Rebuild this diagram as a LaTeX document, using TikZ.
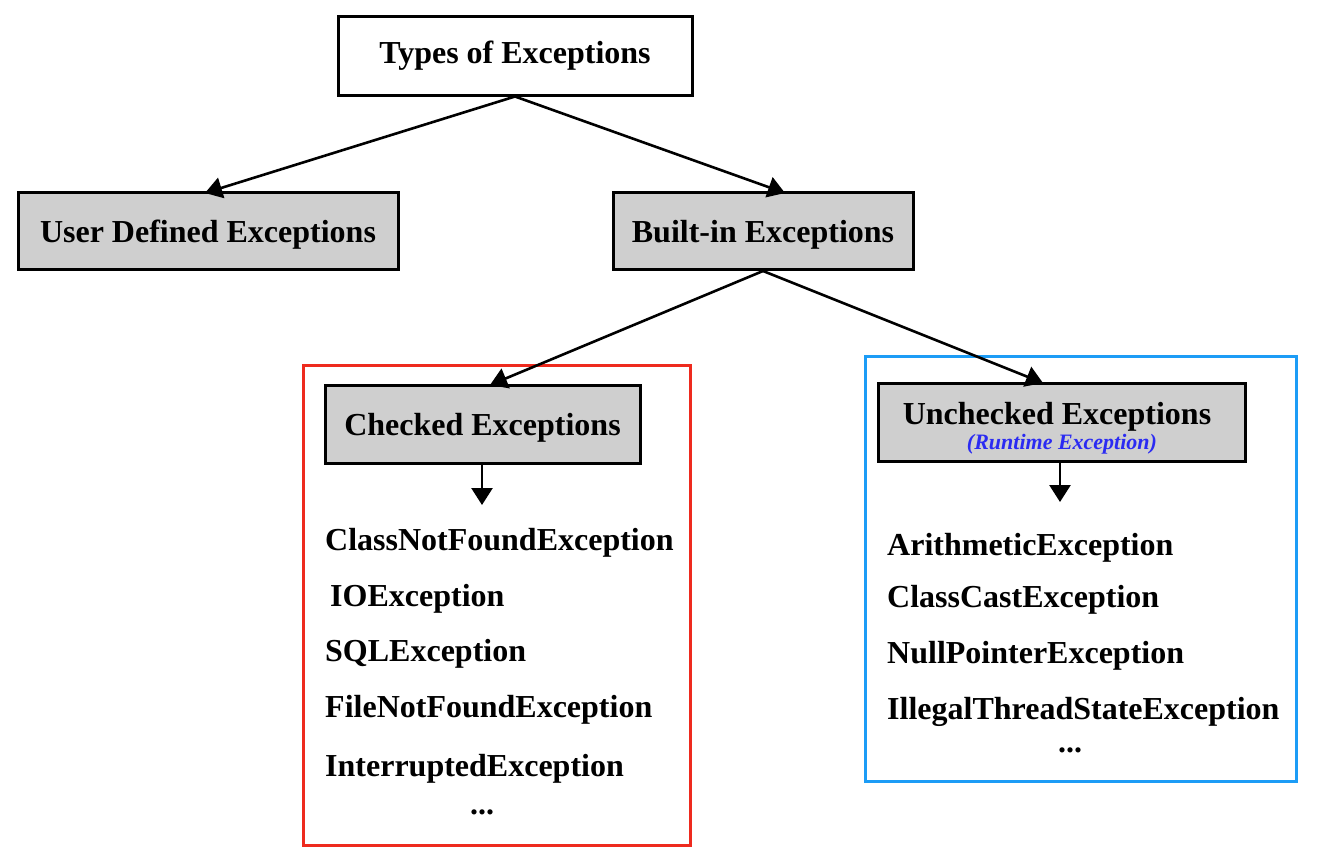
\documentclass[tikz,border=0pt]{standalone}
\usepackage{fontspec}
\setmainfont{Liberation Serif}
\usetikzlibrary{arrows.meta}
\definecolor{boxgray}{HTML}{CFCFCF}
\definecolor{redframe}{HTML}{EE2A1E}
\definecolor{blueframe}{HTML}{1C9CF6}
\definecolor{rtblue}{HTML}{2B2BF2}
\tikzset{
  bigfont/.style={font=\fontsize{32}{32}\selectfont\bfseries},
  titlebox/.style={draw=black,line width=3pt,fill=white,bigfont,inner sep=0pt},
  catbox/.style={draw=black,line width=3pt,fill=boxgray,bigfont,inner sep=0pt,text height=23pt,text depth=0pt},
  item/.style={anchor=west,bigfont,inner sep=0pt},
  dots/.style={bigfont,inner sep=0pt},
  conn/.style={line width=2.6pt,-{Triangle[width=21pt,length=17pt]}},
  frame/.style={line width=3pt}
}
\begin{document}
\begin{tikzpicture}[x=1pt,y=-1pt]
\useasboundingbox (0,0) rectangle (1320,867);
% frames
\draw[frame,draw=redframe] (303,365) rectangle (690,845);
\draw[frame,draw=blueframe] (865,356) rectangle (1296,781);
% nodes
\node[titlebox,minimum width=354pt,minimum height=78pt] (types) at (515,56) {Types of Exceptions};
\node[catbox,minimum width=380pt,minimum height=77pt] (user) at (208,231) {User Defined Exceptions};
\node[catbox,minimum width=300pt,minimum height=77pt] (built) at (763,231) {Built-in Exceptions};
\node[catbox,minimum width=315pt,minimum height=78pt] (checked) at (482.5,424) {Checked Exceptions};
\node[draw=black,line width=3pt,fill=boxgray,inner sep=0pt,minimum width=367pt,minimum height=78pt] (unchecked) at (1061.5,422) {};
\node[bigfont,inner sep=0pt,align=center] (uncheckedtext) at (1057,428) {Unchecked Exceptions\\[-7pt]{\fontsize{22}{22}\selectfont\itshape\color{rtblue}\hspace*{10pt}(Runtime Exception)}};
% connection points
\coordinate (cdown) at (482,505);
\coordinate (udown) at (1060,502);
% connectors
\draw[conn] (types.south) -- (205,193) coordinate (userin);
\draw[conn] (types.south) -- (785,193) coordinate (builtin);
\draw[conn] (built.south) -- (490,385) coordinate (checkedin);
\draw[conn] (built.south) -- (1043,383) coordinate (uncheckedin);
\draw[conn] (checked.south -| cdown) -- (cdown);
\draw[conn] (unchecked.south -| udown) -- (udown);
% checked items
\node[item] (c1) at (325,543) {ClassNotFoundException};
\node[item] (c2) at (330,599) {IOException};
\node[item] (c3) at (325,654) {SQLException};
\node[item] (c4) at (325,710) {FileNotFoundException};
\node[item] (c5) at (325,769) {InterruptedException};
\node[dots] (c6) at (482,812) {...};
% unchecked items
\node[item] (u1) at (887,548) {ArithmeticException};
\node[item] (u2) at (887,600) {ClassCastException};
\node[item] (u3) at (887,656) {NullPointerException};
\node[item] (u4) at (887,712) {IllegalThreadStateException};
\node[dots] (u5) at (1070,750) {...};
\end{tikzpicture}
\end{document}
